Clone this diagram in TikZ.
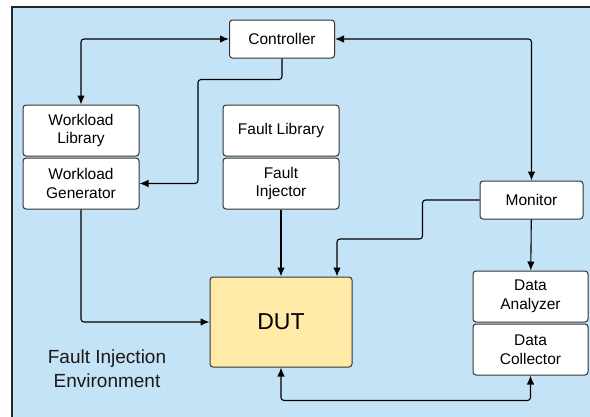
\documentclass[tikz,border=0pt]{standalone}
\usepackage{fontspec}
\setmainfont{Liberation Sans}
\usetikzlibrary{positioning,arrows.meta}

\definecolor{envblue}{RGB}{197,227,246}
\definecolor{dutyellow}{RGB}{255,234,168}

\tikzset{
  block/.style={draw=black!80, fill=white, rounded corners=3pt, line width=1pt,
    align=center, minimum width=116pt, minimum height=51pt, inner sep=0pt,
    font=\fontsize{15.5}{18.5}\selectfont},
  conn/.style={line width=1.1pt, rounded corners=3pt, -{Latex[length=9pt,width=7.5pt]}},
  biconn/.style={conn, {Latex[length=9pt,width=7.5pt]}-{Latex[length=9pt,width=7.5pt]}},
}

\begin{document}
\begin{tikzpicture}[x=1pt,y=-1pt]
\clip (0,0) rectangle (590,416);
\fill[white] (0,0) rectangle (590,416);
% environment
\draw[fill=envblue, draw=black!85, line width=1.2pt] (12,7) rectangle (600,430);

% Define the nodes
\node[block, minimum width=105pt, minimum height=38pt] (ctrl) at (282,39) {Controller};
\node[block] (wlib) at (81,130.5) {Workload\\Library};
\node[block, below=1pt of wlib] (wgen) {Workload\\Generator};
\node[block] (flib) at (281,130.5) {Fault Library};
\node[block, below=1pt of flib] (finj) {Fault\\Injector};
\node[block, minimum width=103pt, minimum height=38pt] (mon) at (531.5,200) {Monitor};
\node[block, minimum width=115pt] (dana) at (530.5,296.5) {Data\\Analyzer};
\node[block, minimum width=115pt, below=1pt of dana] (dcol) {Data\\Collector};
\node[block, fill=dutyellow, minimum width=142pt, minimum height=90pt,
  font=\fontsize{23}{27}\selectfont] (dut) at (281,322) {DUT};
\node[align=center, text=black!90, font=\fontsize{19}{24}\selectfont] (env) at (107,369)
  {Fault Injection\\Environment};

% Connect the nodes
\draw[biconn] (ctrl.west) -| (wlib.north);
\draw[conn] (ctrl.south) |- ++(-84,21) |- (wgen.east);
\draw[biconn] (ctrl.east) -| (mon.north);
\draw[conn] (mon.west) -| ++(-57,39) -| ([xshift=56pt]dut.north);
\draw[conn] (mon) -- (dana);
\draw[conn] (finj) -- (dut);
\draw[conn] (wgen.south) |- (dut.west);
\draw[biconn] (dut.south) -- ++(0,33) -| (dcol.south);
\end{tikzpicture}
\end{document}
